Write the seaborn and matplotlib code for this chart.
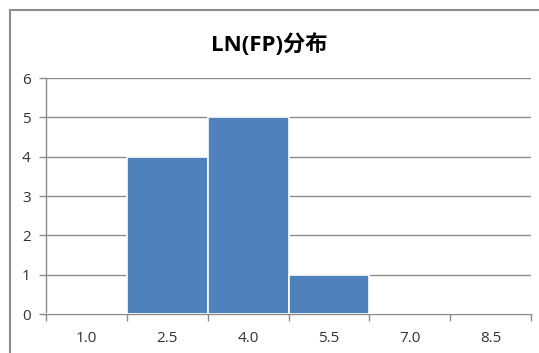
import matplotlib
matplotlib.use("Agg")
import matplotlib.pyplot as plt
import seaborn as sns
import pandas as pd
from matplotlib.patches import Rectangle
from matplotlib.ticker import FixedLocator

bins = ["1.0", "2.5", "4.0", "5.5", "7.0", "8.5"]
counts = [0, 4, 5, 1, 0, 0]
y_ticks = [0, 1, 2, 3, 4, 5, 6]
title = "LN(FP)分布"

sns.set_theme(style="white")
plt.rcParams["font.family"] = ["Open Sans", "Noto Sans CJK SC", "DejaVu Sans"]

W, H = 539, 353
fig = plt.figure(figsize=(W / 100, H / 100), dpi=100)
ax = fig.add_axes([46 / W, 1 - 314 / H, (531 - 46) / W, (314 - 78) / H])

df = pd.DataFrame({"bin": bins, "count": counts})
sns.barplot(data=df, x="bin", y="count", order=bins, color="#4F81BD",
            saturation=1, width=1.0, edgecolor="white", linewidth=1.2,
            ax=ax, zorder=3)

ax.set_ylim(0, 6)
ax.set_xlim(-0.5, len(bins) - 0.5)
ax.set_yticks(y_ticks)
ax.set_yticklabels([str(v) for v in y_ticks])
ax.yaxis.grid(True, color="#8c8c8c", linewidth=1.0, zorder=0)
ax.set_axisbelow(True)
ax.set_xlabel("")
ax.set_ylabel("")

for side in ["top", "right"]:
    ax.spines[side].set_visible(False)
for side in ["left", "bottom"]:
    ax.spines[side].set_color("#8c8c8c")
    ax.spines[side].set_linewidth(1.0)

# category boundary ticks on the x axis
ax.xaxis.set_minor_locator(FixedLocator([i - 0.5 for i in range(len(bins) + 1)]))
ax.tick_params(axis="x", which="major", length=0, pad=12, labelsize=11, labelcolor="#333333")
ax.tick_params(axis="x", which="minor", bottom=True, length=5, width=1.0, color="#8c8c8c", direction="out")
ax.tick_params(axis="y", which="major", left=True, length=5, width=1.0, color="#8c8c8c",
               direction="out", pad=6, labelsize=11, labelcolor="#333333")

fig.text(269 / W, 1 - 45 / H, title, ha="center", va="center",
         fontsize=16, fontweight="bold", color="#000000",
         family=["Open Sans", "Noto Sans CJK SC", "DejaVu Sans"])

# outer chart frame
fig.patches.append(Rectangle((10 / W, -0.05), 1.2, 1 - 10 / H + 0.05,
                             transform=fig.transFigure, fill=False,
                             edgecolor="#8c8c8c", linewidth=1.5, clip_on=False))

fig.savefig("out.png", dpi=100)
